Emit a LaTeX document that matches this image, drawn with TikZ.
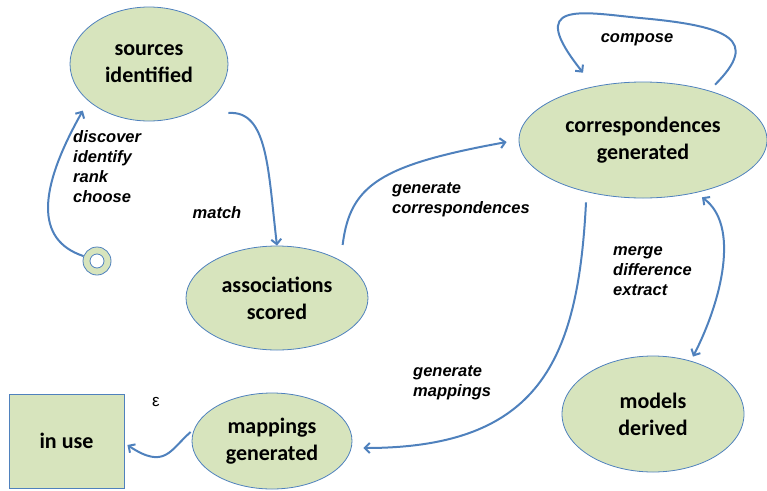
\documentclass[tikz,border=0pt]{standalone}
\usepackage{fontspec}
\setmainfont{Carlito}
\newfontfamily\lblfont{Liberation Sans}
\usetikzlibrary{shapes.geometric,arrows.meta}
\definecolor{stgreen}{HTML}{D7E4BD}
\definecolor{stblue}{HTML}{4F81BD}
\tikzset{
  state/.style={ellipse,draw=stblue,line width=0.8pt,fill=stgreen,inner sep=0pt,
    align=center,font=\bfseries\fontsize{22}{27}\selectfont},
  box/.style={rectangle,draw=stblue,line width=0.8pt,fill=stgreen,inner sep=0pt,
    align=center,font=\bfseries\fontsize{22}{27}\selectfont},
  lbl/.style={inner sep=0pt,align=left,font=\lblfont\bfseries\itshape\fontsize{16.5}{20}\selectfont},
  conn/.style={draw=stblue,line width=2pt,-{Straight Barb[length=5pt,width=10pt]}},
}
\begin{document}
\begin{tikzpicture}[x=1pt,y=-1pt]
            \useasboundingbox (0,0) rectangle (767,490);
            % states
            \node[state,minimum width=158pt,minimum height=114pt] (src) at (149,64) {sources\\identified};
            \node[state,minimum width=248pt,minimum height=116pt] (corr) at (643,140) {correspondences\\generated};
            \node[state,minimum width=182pt,minimum height=104pt] (assoc) at (277,298) {associations\\scored};
            \node[state,minimum width=160pt,minimum height=96pt] (mapg) at (272,441) {mappings\\generated};
            \node[state,minimum width=182pt,minimum height=116pt] (models) at (653,414) {models\\derived};
            \node[box,minimum width=115pt,minimum height=94pt] (inuse) at (66.5,441) {in use};
            \node[circle,draw=stblue,line width=0.8pt,fill=stgreen,minimum size=28pt,inner sep=0pt] (start) at (97,261) {};
            \draw[draw=stblue,line width=0.8pt,fill=white] (start.center) circle[radius=7];
            % connectors
            \draw[conn] (start.160) .. controls (35,240) and (38,190) .. ([shift={(-10,6)}]src.south west);
            \draw[conn] ([shift={(0,49)}]src.east) .. controls (268,110) and (268,170) .. (assoc.north);
            \draw[conn] ([shift={(1,-16)}]assoc.north east) .. controls (350,185) and (380,165) .. ([shift={(-12,2)}]corr.west);
            \draw[conn] ([shift={(-16,-14)}]corr.north east) .. controls (760,40) and (730,26) .. (640,18)
                        .. controls (580,12) and (525,0) .. ([shift={(28,-26)}]corr.north west);
            \draw[conn] ([shift={(-57,4)}]corr.south) .. controls (578,360) and (540,448) .. ([shift={(11,7)}]mapg.east);
            \draw[conn,{Straight Barb[length=5pt,width=10pt]}-{Straight Barb[length=5pt,width=10pt]}]
                        ([shift={(40,1)}]models.north) .. controls (722,300) and (740,225) .. ([shift={(-29,16)}]corr.south east);
            \draw[conn] ([shift={(-1,-9)}]mapg.west) .. controls (170,450) and (165,470) .. ([shift={(3,4)}]inuse.east);
            % labels
            \node[lbl,anchor=west] (l1) at (73,167) {discover\\identify\\rank\\choose};
            \node[lbl] (l2) at (217,213) {match};
            \node[lbl] (l3) at (637,40) {compose};
            \node[lbl,anchor=west] (l4) at (392,200) {generate\\correspondences};
            \node[lbl,anchor=west] (l5) at (613,271) {merge\\difference\\extract};
            \node[lbl,anchor=west] (l6) at (413,383) {generate\\mappings};
            \node[inner sep=0pt,font=\lblfont\fontsize{17}{20}\selectfont] (eps) at (156,402) {ε};
\end{tikzpicture}
\end{document}
